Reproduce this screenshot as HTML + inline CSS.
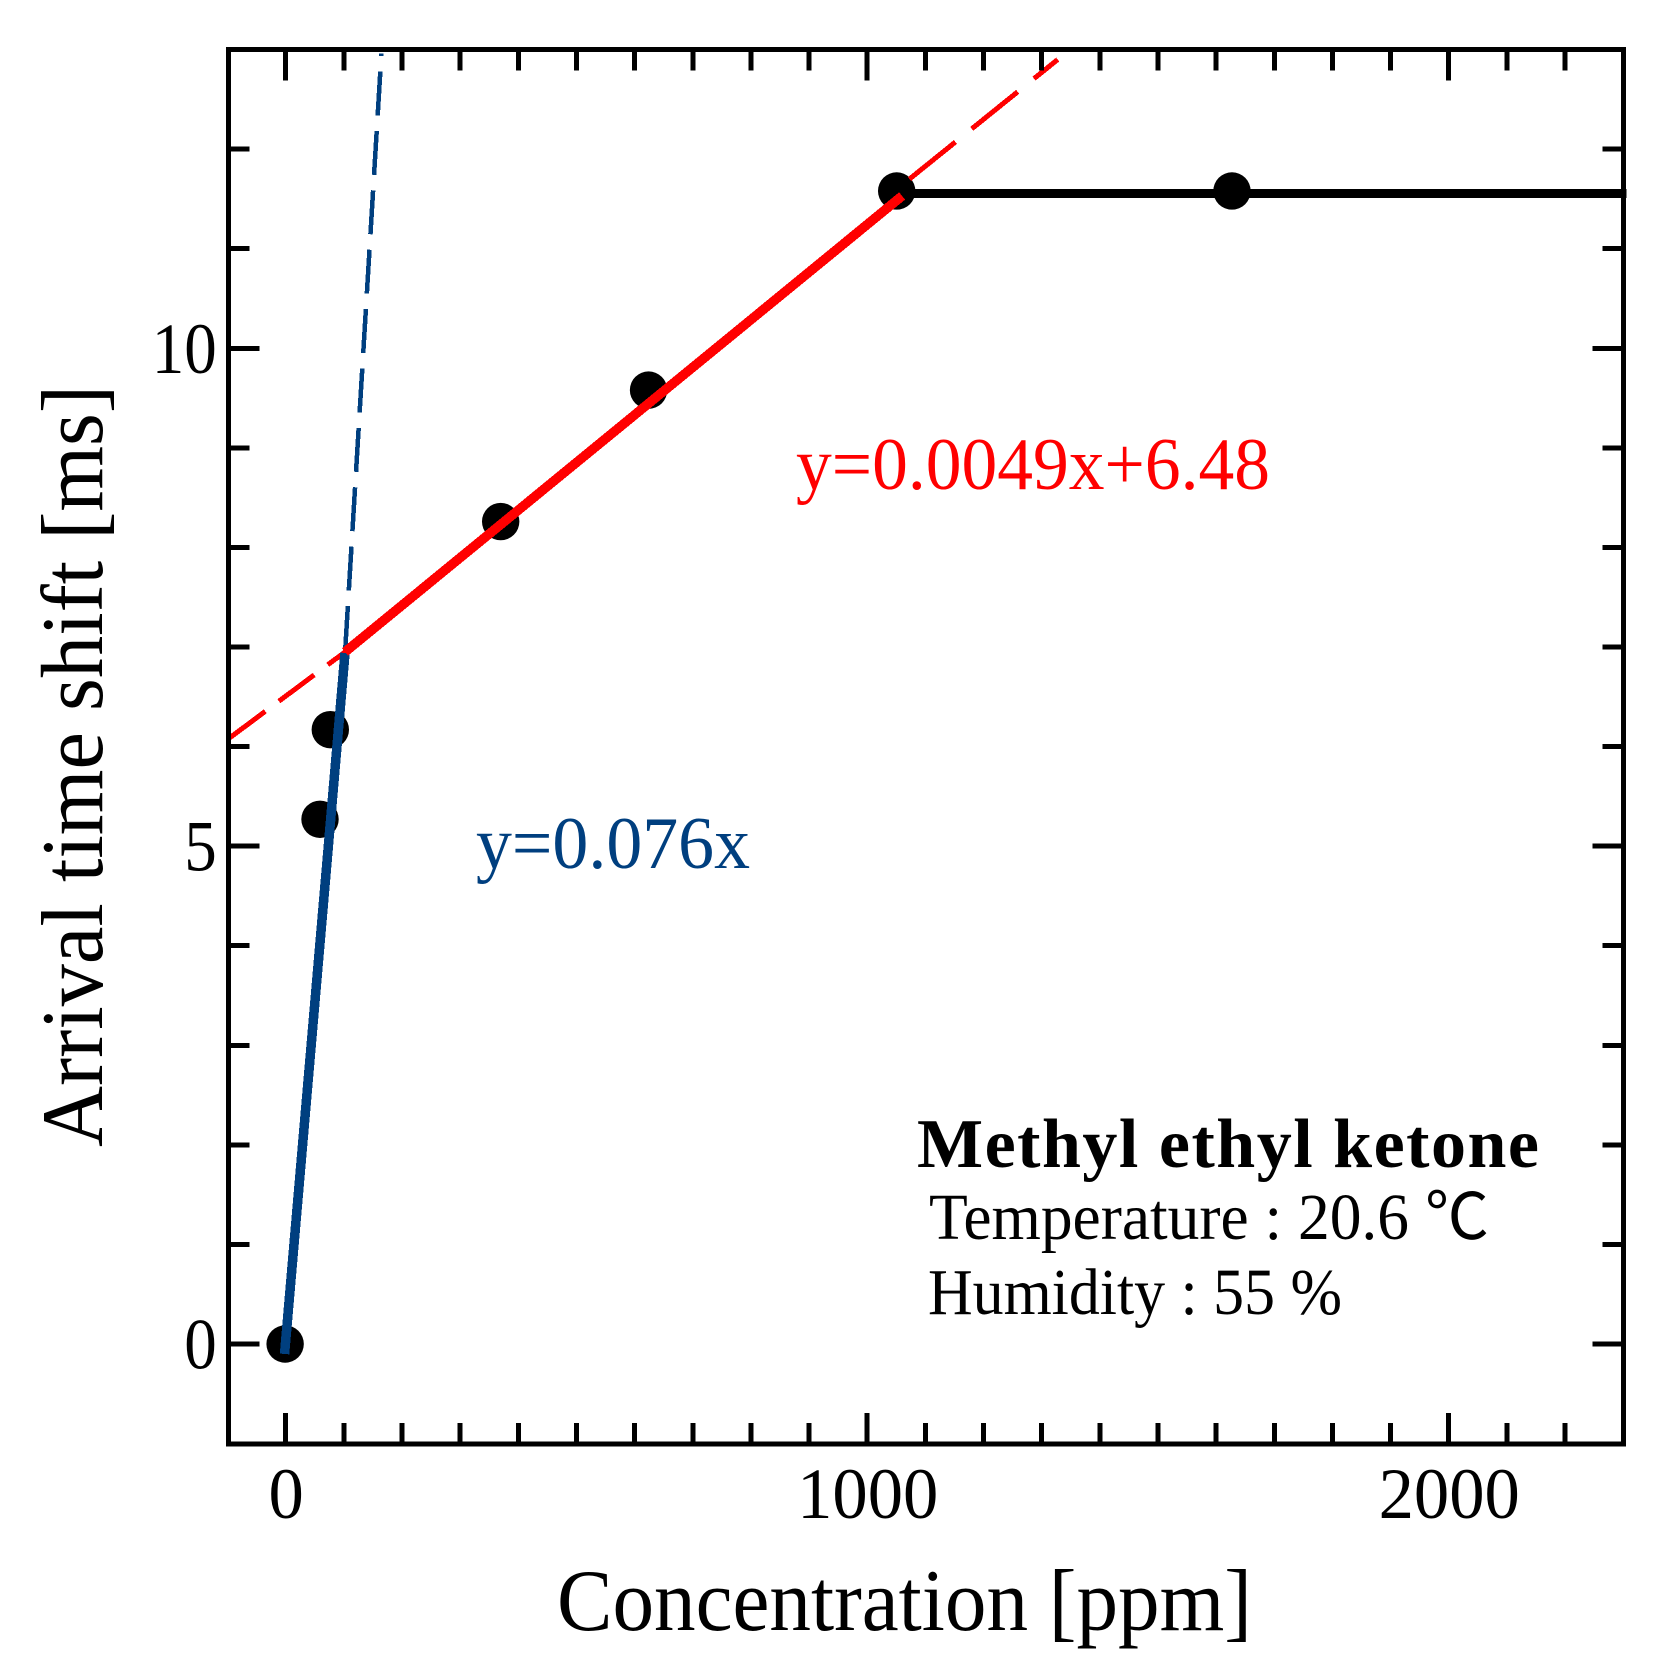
<!DOCTYPE html>
<html lang="en">
<head>
<meta charset="utf-8">
<title>Arrival time shift vs concentration</title>
<style>
html,body{margin:0;padding:0;background:#fff;width:1660px;height:1678px;overflow:hidden}
svg{display:block;font-family:"Liberation Serif","Noto Serif CJK JP",serif}
line,rect{shape-rendering:crispEdges}
</style>
</head>
<body>
<svg id="chart" width="1660" height="1678" viewBox="0 0 1660 1678" xmlns="http://www.w3.org/2000/svg">
  <rect x="0" y="0" width="1660" height="1678" fill="#fff"/>
  <g id="marks"></g>
  <g id="ticks"></g>
  <rect x="228.5" y="49.5" width="1395" height="1394.5" fill="none" stroke="#000" stroke-width="5"/>
  <g id="labels"></g>
  <text x="557" y="1630" font-size="88" textLength="695" lengthAdjust="spacingAndGlyphs">Concentration [ppm]</text>
  <text transform="translate(102,1147) rotate(-90)" font-size="88" textLength="762" lengthAdjust="spacingAndGlyphs">Arrival time shift [ms]</text>
  <text x="476" y="868" font-size="74" fill="#003f7f" textLength="274" lengthAdjust="spacingAndGlyphs">y=0.076x</text>
  <text x="796" y="489" font-size="74" fill="#ff0000" textLength="474" lengthAdjust="spacingAndGlyphs">y=0.0049x+6.48</text>
  <text x="917" y="1167" font-size="70" font-weight="bold" textLength="622" lengthAdjust="spacing">Methyl ethyl ketone</text>
  <text x="929" y="1239" font-size="66" textLength="480" lengthAdjust="spacingAndGlyphs">Temperature : 20.6</text>
  <text x="1425" y="1239" font-size="64" font-family="'Noto Sans CJK JP',sans-serif">℃</text>
  <text x="928" y="1314" font-size="66" textLength="414" lengthAdjust="spacingAndGlyphs">Humidity : 55 %</text>
</svg>
<script>
const pointsX = [-1, 59, 76.7, 369.7, 624, 1050.7, 1627.3];
const pointsY = [0, 5.27, 6.17, 8.26, 9.58, 11.58, 11.58];
const plateauX = [1050.7, 2306];
const plateauY = [11.555, 11.555];
const blueSolidX = [-2, 102];
const blueSolidY = [-0.1, 6.94];
const blueDashX = [164.6, 102];
const blueDashY = [12.96, 6.94];
const redSolidX = [102, 1060];
const redSolidY = [6.95, 11.53];
const redDashLeftX = [-95.8, 102];
const redDashLeftY = [6.09, 6.95];
const redDashRightX = [1072.7, 1327.6];
const redDashRightY = [11.7, 12.9];
const xMajorTicks = [0, 1000, 2000];
const xMajorLabels = ['0', '1000', '2000'];
const yMajorTicks = [0, 5, 10];
const yMajorLabels = ['0', '5', '10'];
const xAllTicks = [0,100,200,300,400,500,600,700,800,900,1000,1100,1200,1300,1400,1500,1600,1700,1800,1900,2000,2100,2200];
const yAllTicks = [0,1,2,3,4,5,6,7,8,9,10,11,12];

const NS = 'http://www.w3.org/2000/svg';
const xAxis = v => 285.7 + v * 0.5815;
const yAxis = v => 1344 - v * 99.57;
const marks = document.getElementById('marks');
const tickGroup = document.getElementById('ticks');
const labelGroup = document.getElementById('labels');

function seg(parent, x1, y1, x2, y2, color, width) {
  const l = document.createElementNS(NS, 'line');
  l.setAttribute('x1', x1);
  l.setAttribute('y1', y1);
  l.setAttribute('x2', x2);
  l.setAttribute('y2', y2);
  l.setAttribute('stroke', color);
  l.setAttribute('stroke-width', width);
  parent.appendChild(l);
  return l;
}
function series(xs, ys, color, width) {
  return seg(marks, xAxis(xs[0]), yAxis(ys[0]), xAxis(xs[1]), yAxis(ys[1]), color, width);
}

pointsX.forEach((v, i) => {
  const c = document.createElementNS(NS, 'circle');
  
  
  c.setAttribute('cx', xAxis(v));
  c.setAttribute('cy', yAxis(pointsY[i]));
  c.setAttribute('r', 18.7);
  c.setAttribute('fill', '#000');
  marks.appendChild(c);
});

const plateau = series(plateauX, plateauY, '#000', 9);



const blueDash = series(blueDashX, blueDashY, '#003f7f', 4.5);


blueDash.setAttribute('stroke-dasharray', '44 15.5');
blueDash.setAttribute('stroke-dashoffset', '41.5');

const redLeft = series(redDashLeftX, redDashLeftY, '#ff0000', 5);


redLeft.setAttribute('stroke-dasharray', '44 17');

const redRight = series(redDashRightX, redDashRightY, '#ff0000', 5);


redRight.setAttribute('stroke-dasharray', '59 21');

const blueSolid = series(blueSolidX, blueSolidY, '#003f7f', 9.5);



const redSolid = series(redSolidX, redSolidY, '#ff0000', 9.5);



const frameL = 228.5, frameR = 1623.5, frameT = 49.5, frameB = 1444;
xAllTicks.forEach(v => {
  const len = xMajorTicks.includes(v) ? 31 : 21;
  const px = xAxis(v);
  const b = seg(tickGroup, px, frameB, px, frameB - len, '#000', 5);
  
  
  const t = seg(tickGroup, px, frameT, px, frameT + len, '#000', 5);
  
  
});
yAllTicks.forEach(v => {
  const len = yMajorTicks.includes(v) ? 31 : 21;
  const py = yAxis(v);
  const l = seg(tickGroup, frameL, py, frameL + len, py, '#000', 5);
  
  
  const r = seg(tickGroup, frameR, py, frameR - len, py, '#000', 5);
  
  
});

xMajorTicks.forEach((v, i) => {
  const t = document.createElementNS(NS, 'text');
  
  
  t.setAttribute('x', xAxis(v) + 0.5);
  t.setAttribute('y', 1518);
  t.setAttribute('font-size', 72);
  t.setAttribute('text-anchor', 'middle');
  t.setAttribute('textLength', xMajorLabels[i].length * 35.3);
  t.setAttribute('lengthAdjust', 'spacingAndGlyphs');
  t.textContent = xMajorLabels[i];
  labelGroup.appendChild(t);
});
yMajorTicks.forEach((v, i) => {
  const t = document.createElementNS(NS, 'text');
  
  
  t.setAttribute('x', 216.7);
  t.setAttribute('y', yAxis(v) + 24.5);
  t.setAttribute('font-size', 72);
  t.setAttribute('text-anchor', 'end');
  t.setAttribute('textLength', yMajorLabels[i].length * 32.5);
  t.setAttribute('lengthAdjust', 'spacingAndGlyphs');
  t.textContent = yMajorLabels[i];
  labelGroup.appendChild(t);
});
</script>
</body>
</html>
